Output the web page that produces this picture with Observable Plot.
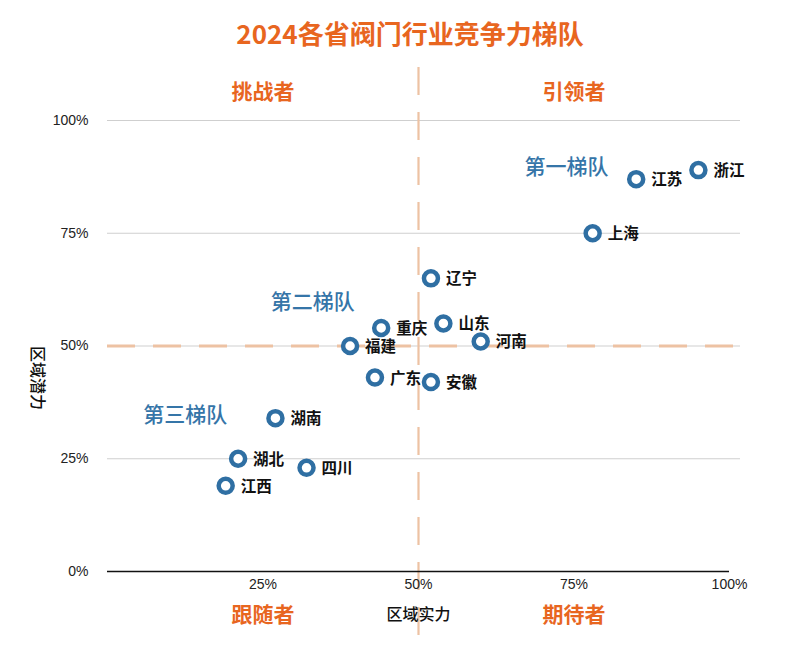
<!DOCTYPE html>
<html><head><meta charset="utf-8">
<script src="https://cdn.jsdelivr.net/npm/d3@7"></script>
<script src="https://cdn.jsdelivr.net/npm/@observablehq/plot@0.6"></script>
<style>
body{margin:0;background:#fff;font-family:"Noto Sans CJK SC",sans-serif;}
#title{height:40px;padding-top:20px;padding-left:20px;text-align:center;font-size:26px;font-weight:bold;color:#E8661F;letter-spacing:0px;line-height:26px;}
#chart svg{display:block;}
</style></head>
<body>
<div id="title">2024各省阀门行业竞争力梯队</div>
<div id="chart"></div>
<script>
const provinces = ["浙江","江苏","上海","辽宁","山东","重庆","河南","福建","广东","安徽","湖南","湖北","四川","江西"];
const strength  = [95, 85, 78, 52, 54, 44, 60, 39, 43, 52, 27, 21, 32, 19];
const potential = [89, 87, 75, 65, 55, 54, 51, 50, 43, 42, 34, 25, 23, 19];

const tierNames = ["第一梯队","第二梯队","第三梯队"];
const tierX = [73.8, 33, 12.5];
const tierY = [89.6, 59.6, 34.6];

const quadrantNames = ["挑战者","引领者","跟随者","期待者"];
const quadrantX = [25, 75, 25, 75];
const quadrantSide = ["top","top","bottom","bottom"];

const xTicks = [25, 50, 75, 100];
const yTicks = [0, 25, 50, 75, 100];
const gridTicks = [25, 50, 75, 100];

const points = provinces.map((p, i) => ({name: p, x: strength[i], y: potential[i]}));
const tiers = tierNames.map((t, i) => ({name: t, x: tierX[i], y: tierY[i]}));
const quads = quadrantNames.map((q, i) => ({name: q, x: quadrantX[i], side: quadrantSide[i]}));

const orange = "#E8661F";
const dash = "#EDC2A3";
const blue = "#2F6FA3";

const chart = Plot.plot({
  width: 800,
  height: 610,
  marginTop: 60,
  marginBottom: 99,
  marginLeft: 107,
  marginRight: 71,
  style: {fontFamily: "'Noto Sans CJK SC', sans-serif", background: "#fff"},
  x: {domain: [0, 100]},
  y: {domain: [0, 100]},
  marks: [
    Plot.ruleY(gridTicks, {stroke: "#cfcfcf", strokeWidth: 1, insetRight: -11}),
    Plot.ruleY([50], {stroke: dash, strokeWidth: 3, strokeDasharray: "28,18", insetRight: -11}),
    Plot.ruleX([50], {stroke: dash, strokeWidth: 2.2, strokeDasharray: "28,17", insetTop: -53, insetBottom: -76}),
    Plot.ruleY([0], {stroke: "#111", strokeWidth: 1.5}),
    Plot.axisY({ticks: yTicks, tickSize: 0, tickPadding: 19, tickFormat: d => d + "%", fontSize: 14, fill: "#222", label: null, fontFamily: "'Liberation Sans', Arial, sans-serif"}),
    Plot.axisX({ticks: xTicks, tickSize: 0, tickPadding: 8, tickFormat: d => d + "%", fontSize: 14, fill: "#222", label: null, fontFamily: "'Liberation Sans', Arial, sans-serif"}),
    Plot.text(["区域潜力"], {frameAnchor: "left", y: [50], dx: -70, rotate: 90, fontSize: 16, fontWeight: 500, fill: "#111"}),
    Plot.text(["区域实力"], {frameAnchor: "bottom", x: [50], dy: 48, fontSize: 16, fontWeight: 500, fill: "#111"}),
    Plot.text(quads.filter(d => d.side === "top"), {x: "x", text: "name", frameAnchor: "top", dy: -36, fontSize: 21, fontWeight: "bold", fill: orange}),
    Plot.text(quads.filter(d => d.side === "bottom"), {x: "x", text: "name", frameAnchor: "bottom", dy: 50, fontSize: 21, fontWeight: "bold", fill: orange}),
    Plot.text(tiers, {x: "x", y: "y", text: "name", fontSize: 21, fontWeight: 500, fill: "#3575A8"}),
    Plot.dot(points, {x: "x", y: "y", r: 7, stroke: blue, strokeWidth: 4.5, fill: "#fff"}),
    Plot.text(points, {x: "x", y: "y", text: "name", textAnchor: "start", dx: 15, dy: 1, fontSize: 15.5, fontWeight: "bold", fill: "#111"})
  ]
});
document.getElementById("chart").appendChild(chart);
</script>
</body></html>
